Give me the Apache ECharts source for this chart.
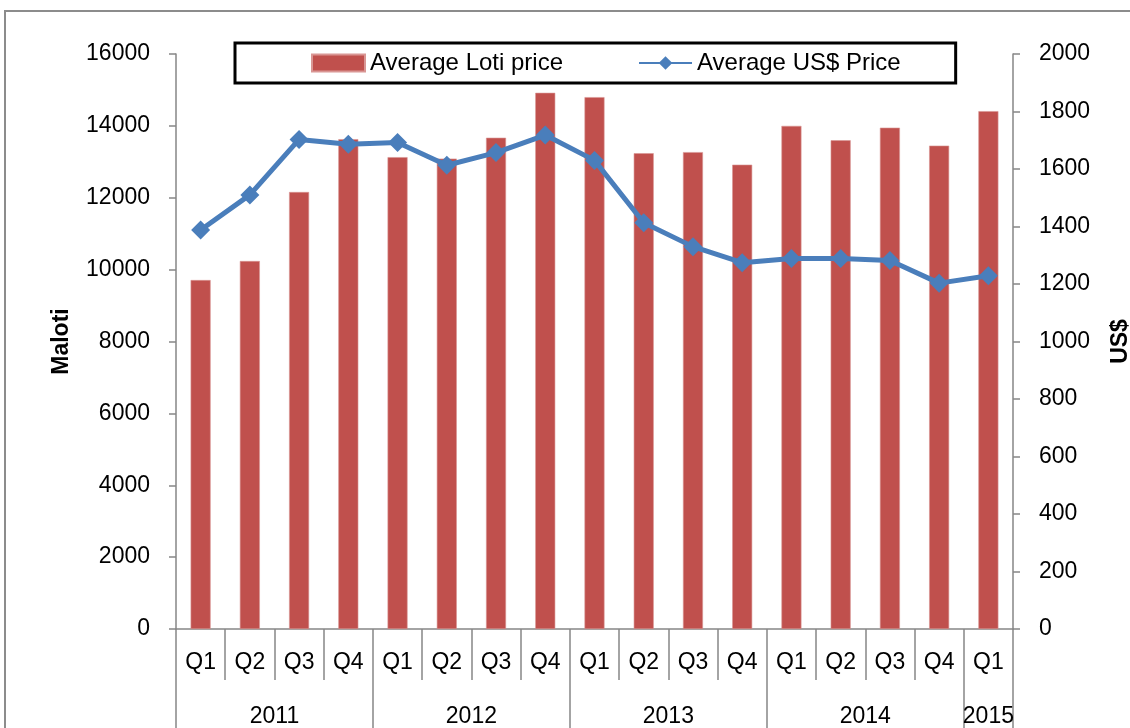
<!DOCTYPE html>
<html><head><meta charset="utf-8">
<script src="https://cdn.jsdelivr.net/npm/echarts@6/dist/echarts.min.js"></script>
<style>html,body{margin:0;padding:0;background:#fff}#c{width:1130px;height:728px}</style>
</head><body><div id="c"></div>
<script>
const quarters = ['Q1','Q2','Q3','Q4','Q1','Q2','Q3','Q4','Q1','Q2','Q3','Q4','Q1','Q2','Q3','Q4','Q1'];
const years = ['2011','2012','2013','2014','2015'];
const quartersPerYear = [4,4,4,4,1];
const lotiPrice = [9710,10240,12160,13630,13130,13090,13670,14920,14800,13240,13270,12920,14000,13600,13950,13450,14410];
const usdPrice = [1388,1510,1703,1686,1692,1613,1657,1718,1630,1413,1330,1274,1289,1289,1282,1203,1229];
const leftTicks = {min:0,max:16000,interval:2000};
const rightTicks = {min:0,max:2000,interval:200};

const FONT = '"Liberation Sans", Arial, sans-serif';
const GRAY = '#868686';

const yearEdges = [0];
quartersPerYear.forEach(n => yearEdges.push(yearEdges[yearEdges.length-1]+n));
const yearMids = years.map((y,i)=> (yearEdges[i]+yearEdges[i+1])/2);

const chart = echarts.init(document.getElementById('c'));
chart.setOption({
  animation:false,
  backgroundColor:'#fff',
  graphic:[{type:'rect',shape:{x:5,y:11,width:1200,height:800},style:{fill:'none',stroke:'#8c8c8c',lineWidth:2},silent:true,z:-1}],
  grid:{left:176,right:117,top:54,bottom:99,containLabel:false,outerBoundsMode:'none'},
  legend:{
    left:235, top:43,
    padding:[8,55,8,76],
    borderColor:'#000', borderWidth:3,
    itemGap:75, itemWidth:53, itemHeight:17,
    textStyle:{fontFamily:FONT,fontSize:24,color:'#000'},
    data:[{name:'Average Loti price',icon:'rect'},{name:'Average US$ Price'}]
  },
  xAxis:[
    {type:'category',data:quarters,boundaryGap:true,
     axisLine:{show:true,lineStyle:{color:GRAY,width:1.5}},
     axisTick:{show:true,length:51,lineStyle:{color:GRAY,width:1.5}},
     axisLabel:{color:'#000',fontFamily:FONT,fontSize:23,margin:22,interval:0}},
    {type:'value',min:0,max:quarters.length,position:'bottom',
     axisLine:{show:false},splitLine:{show:false},
     axisTick:{show:true,length:99,customValues:yearEdges,lineStyle:{color:GRAY,width:1.5}},
     axisLabel:{show:true,customValues:yearMids,color:'#000',fontFamily:FONT,fontSize:23,margin:76,
       formatter:(v)=>{const i=yearMids.findIndex(m=>Math.abs(m-v)<1e-6);return i>=0?years[i]:'';}}}
  ],
  yAxis:[
    {type:'value',...leftTicks,name:'Maloti',nameLocation:'middle',nameGap:103,nameRotate:90,nameMoveOverlap:false,
     nameTextStyle:{fontFamily:FONT,fontSize:23,fontWeight:'bold',color:'#000'},
     axisLine:{show:true,lineStyle:{color:GRAY,width:1.5}},
     axisTick:{show:true,length:7,lineStyle:{color:GRAY,width:1.5}},
     axisLabel:{color:'#000',fontFamily:FONT,fontSize:23,margin:26,formatter:v=>String(v)},
     splitLine:{show:false}},
    {type:'value',...rightTicks,position:'right',name:'US$',nameLocation:'middle',nameGap:96,nameRotate:90,nameMoveOverlap:false,
     nameTextStyle:{fontFamily:FONT,fontSize:23,fontWeight:'bold',color:'#000'},
     axisLine:{show:true,lineStyle:{color:GRAY,width:1.5}},
     axisTick:{show:true,length:7,lineStyle:{color:GRAY,width:1.5}},
     axisLabel:{color:'#000',fontFamily:FONT,fontSize:23,margin:26,formatter:v=>String(v)},
     splitLine:{show:false}}
  ],
  series:[
    {name:'Average Loti price',type:'bar',xAxisIndex:0,yAxisIndex:0,data:lotiPrice,barWidth:20,
     itemStyle:{color:'#C0504D',borderColor:'#d99694',borderWidth:0.6}},
    {name:'Average US$ Price',type:'line',xAxisIndex:0,yAxisIndex:1,data:usdPrice,
     symbol:'diamond',symbolSize:19,
     lineStyle:{color:'#4A7EBB',width:5},itemStyle:{color:'#4A7EBB'}}
  ]
});
</script></body></html>
